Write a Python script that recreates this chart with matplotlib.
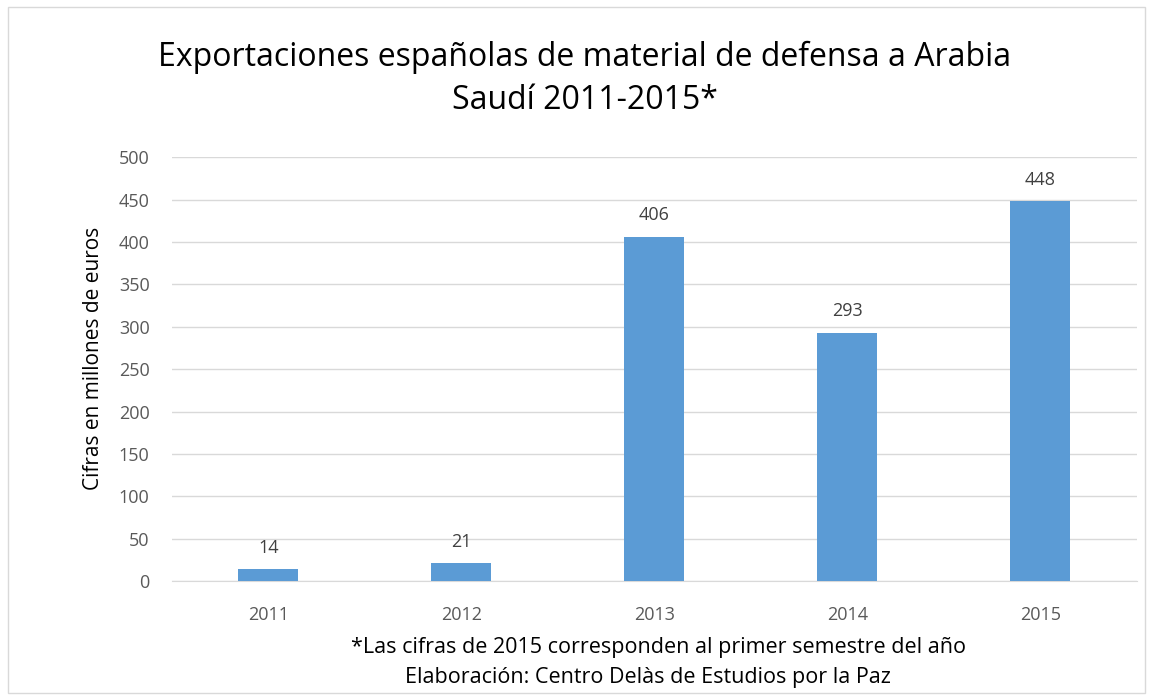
import matplotlib.pyplot as plt
import matplotlib.patches as mpatches

years = ['2011', '2012', '2013', '2014', '2015']
valores = [14, 21, 406, 293, 448]
yticks = [0, 50, 100, 150, 200, 250, 300, 350, 400, 450, 500]

plt.rcParams['font.family'] = ['Open Sans', 'DejaVu Sans']

fig = plt.figure(figsize=(11.53, 6.96), dpi=100)
ax = fig.add_axes([0.149, 0.165, 0.837, 0.609])

x = range(len(years))
ax.bar(x, valores, width=0.31, color='#5B9BD5', zorder=3)
for xi, v in zip(x, valores):
    ax.text(xi, v + 15, str(v), ha='center', va='bottom', fontsize=13, color='#404040')

ax.set_xlim(-0.5, len(years) - 0.5)
ax.set_ylim(0, 500)
ax.set_yticks(yticks)
ax.set_xticks(list(x))
ax.set_xticklabels(years)
ax.tick_params(axis='y', length=0, labelsize=13, labelcolor='#595959', pad=16)
ax.tick_params(axis='x', length=0, labelsize=13, labelcolor='#595959', pad=18)
ax.grid(axis='y', color='#D9D9D9', linewidth=1, zorder=0)
for s in ['top', 'right', 'left']:
    ax.spines[s].set_visible(False)
ax.spines['bottom'].set_color('#D9D9D9')
ax.set_ylabel('Cifras en millones de euros', fontsize=15, color='black')
ax.yaxis.set_label_coords(-0.07, 0.525)

fig.text(0.507, 0.887, 'Exportaciones españolas de material de defensa a Arabia\nSaudí 2011-2015*',
         ha='center', va='center', fontsize=23, linespacing=1.38)
fig.text(0.571, 0.069, '*Las cifras de 2015 corresponden al primer semestre del año',
         ha='center', va='center', fontsize=15.5)
fig.text(0.562, 0.027, 'Elaboración: Centro Delàs de Estudios por la Paz',
         ha='center', va='center', fontsize=15.5)

fig.patches.append(mpatches.Rectangle((0.007, 0.005), 0.986, 0.985, transform=fig.transFigure,
                                      fill=False, edgecolor='#D9D9D9', linewidth=1))

fig.savefig('out.png', dpi=100)
